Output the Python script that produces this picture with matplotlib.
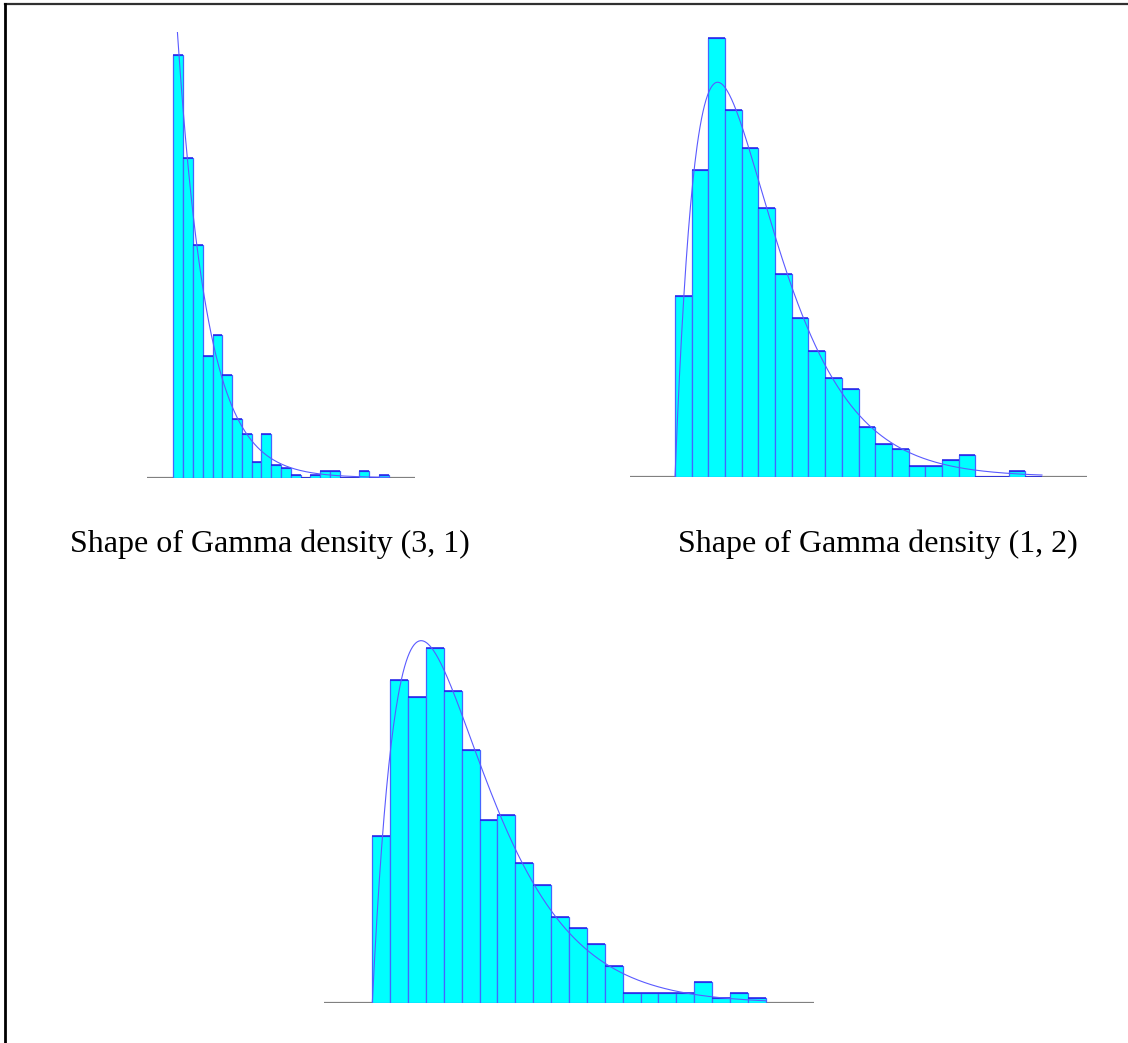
import math
import numpy as np
import matplotlib
matplotlib.use("Agg")
import matplotlib.pyplot as plt
from matplotlib.lines import Line2D

# Histogram counts per bin (500 samples each, 22 bins)
counts_a = [136, 103, 75, 39, 46, 33, 19, 14, 5, 14, 4, 3, 1, 0, 1, 2, 2, 0, 0, 2, 0, 1]
counts_b = [33, 56, 80, 67, 60, 49, 37, 29, 23, 18, 16, 9, 6, 5, 2, 2, 3, 4, 0, 0, 1, 0]
counts_c = [31, 60, 57, 66, 58, 47, 34, 35, 26, 22, 16, 14, 11, 7, 2, 2, 2, 2, 4, 1, 2, 1]

# Gamma (shape, scale) of the fitted curves, scale in bin units
shape_a, scale_a = 1, 3.05
shape_b, scale_b = 2, 2.555
shape_c, scale_c = 2, 2.73

titles = ["Shape of Gamma density (3, 1)", "Shape of Gamma density (1, 2)"]

W, H = 1128, 1043
fig = plt.figure(figsize=(W / 100, H / 100), dpi=100)


def box(x0, y0, x1, y1):
    # pixel box (top-left origin) -> figure fraction
    return [x0 / W, 1 - y1 / H, (x1 - x0) / W, (y1 - y0) / H]


def gamma_curve(x, k, theta, n):
    return n * x ** (k - 1) * np.exp(-x / theta) / (math.gamma(k) * theta ** k)


def panel(rect, counts, k, theta, ytop):
    ax = fig.add_axes(rect)
    nb = len(counts)
    left = np.arange(nb)
    ax.bar(left, counts, width=1, align="edge", color="#00ffff",
           edgecolor="#4466ff", linewidth=0.9, zorder=2)
    # darker top edge on each bar
    ax.hlines(counts, left, left + 1, color="#2020e8", linewidth=1.1, zorder=2.5)
    xs = np.linspace(0.001, nb, 500)
    ax.plot(xs, gamma_curve(xs, k, theta, sum(counts)), color="#5a5aff",
            linewidth=0.8, zorder=3)
    ax.axhline(0, color="#808080", linewidth=1.6, zorder=1)
    ax.set_xlim(-2.7, nb + 2.7)
    ax.set_ylim(0, ytop)
    ax.axis("off")
    return ax


panel(box(147, 32, 415, 477.7), counts_a, shape_a, scale_a, 143.4)
panel(box(630, 37, 1087, 476.7), counts_b, shape_b, scale_b, 80.25)
panel(box(324, 640, 814, 1003.3), counts_c, shape_c, scale_c, 67.5)

# Titles under the top two panels
for cx, t in zip([270, 878], titles):
    fig.text(cx / W, 1 - 552 / H, t, ha="center", va="baseline",
             fontsize=23, family="Liberation Serif", color="black")

# Frame: top and left edges
fig.add_artist(Line2D([4.5 / W, 1], [1 - 4.2 / H, 1 - 4.2 / H],
                      transform=fig.transFigure, color="#303030", linewidth=1.6))
fig.add_artist(Line2D([4.5 / W, 4.5 / W], [1 - 3.5 / H, 0],
                      transform=fig.transFigure, color="black", linewidth=2.0))

fig.savefig("out.png", dpi=100)
